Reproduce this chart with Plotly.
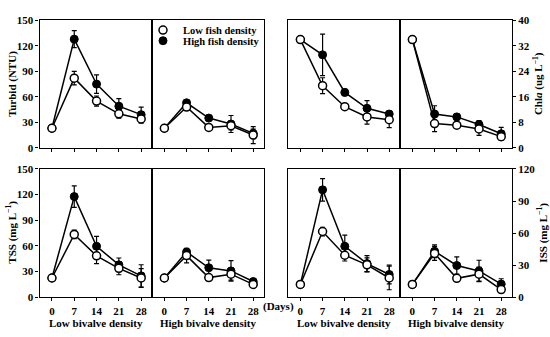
import plotly.graph_objects as go

days = [0, 7, 14, 21, 28]

# Turbid (NTU)
turb_lowbiv_lowfish = [23, 82, 55, 40, 34]
turb_lowbiv_lowfish_err = [1, 8, 6, 5, 5]
turb_lowbiv_highfish = [23, 128, 75, 49, 39]
turb_lowbiv_highfish_err = [1, 10, 11, 9, 9]
turb_highbiv_lowfish = [23, 48, 24, 26, 15]
turb_highbiv_lowfish_err = [1, 3, 2, 5, 10]
turb_highbiv_highfish = [23, 53, 35, 28, 17]
turb_highbiv_highfish_err = [1, 3, 3, 10, 5]

# Chla (ug L-1)
chla_lowbiv_lowfish = [34, 19.5, 12.9, 9.7, 8.8]
chla_lowbiv_lowfish_err = [0.5, 2.5, 0.8, 2.3, 2.5]
chla_lowbiv_highfish = [34, 29.2, 17.4, 12.4, 10.6]
chla_lowbiv_highfish_err = [0.5, 6.5, 1, 2.4, 1]
chla_highbiv_lowfish = [34, 7.6, 7.1, 5.9, 3.5]
chla_highbiv_lowfish_err = [0.5, 2.5, 0.8, 2, 1]
chla_highbiv_highfish = [34, 10.6, 9.7, 7.3, 4.4]
chla_highbiv_highfish_err = [0.5, 2.6, 1, 1.2, 2]

# TSS (mg L-1)
tss_lowbiv_lowfish = [22.5, 73.5, 48.4, 33.8, 22.5]
tss_lowbiv_lowfish_err = [1, 5, 9, 7.5, 11]
tss_lowbiv_highfish = [22.5, 117.7, 59.6, 37.9, 25]
tss_lowbiv_highfish_err = [1, 12.5, 11.6, 8, 13]
tss_highbiv_lowfish = [22.5, 48.7, 23, 27, 15]
tss_highbiv_lowfish_err = [1, 8.5, 2, 7, 2]
tss_highbiv_highfish = [22.5, 53, 34.5, 30.8, 18.4]
tss_highbiv_highfish_err = [1, 3, 9, 12, 2]

# ISS (mg L-1)
iss_lowbiv_lowfish = [12, 61.5, 39.3, 30.3, 18]
iss_lowbiv_lowfish_err = [1, 4, 5.4, 6.6, 11]
iss_lowbiv_highfish = [12, 100.5, 47.7, 31.5, 21.3]
iss_lowbiv_highfish_err = [1, 10.5, 10.5, 7.5, 8.7]
iss_highbiv_lowfish = [12, 41, 17.7, 21.6, 7.2]
iss_highbiv_lowfish_err = [1, 6.5, 2, 6.6, 2]
iss_highbiv_highfish = [12, 43, 29.7, 24.6, 12.3]
iss_highbiv_highfish_err = [1, 6, 8, 10, 5]

legend_names = ["Low fish density", "High fish density"]
panel_titles = ["Low bivalve density", "High bivalve density"]
ytitles = ["Turbid (NTU)", "Chl<i>a</i> (ug L<sup>−1</sup>)",
           "TSS (mg L<sup>−1</sup>)", "ISS (mg L<sup>−1</sup>)"]

FONT = "Liberation Serif"
FS = 11
W, H = 550, 337

panels = [
    (turb_lowbiv_lowfish, turb_lowbiv_lowfish_err, turb_lowbiv_highfish, turb_lowbiv_highfish_err),
    (turb_highbiv_lowfish, turb_highbiv_lowfish_err, turb_highbiv_highfish, turb_highbiv_highfish_err),
    (chla_lowbiv_lowfish, chla_lowbiv_lowfish_err, chla_lowbiv_highfish, chla_lowbiv_highfish_err),
    (chla_highbiv_lowfish, chla_highbiv_lowfish_err, chla_highbiv_highfish, chla_highbiv_highfish_err),
    (tss_lowbiv_lowfish, tss_lowbiv_lowfish_err, tss_lowbiv_highfish, tss_lowbiv_highfish_err),
    (tss_highbiv_lowfish, tss_highbiv_lowfish_err, tss_highbiv_highfish, tss_highbiv_highfish_err),
    (iss_lowbiv_lowfish, iss_lowbiv_lowfish_err, iss_lowbiv_highfish, iss_lowbiv_highfish_err),
    (iss_highbiv_lowfish, iss_highbiv_lowfish_err, iss_highbiv_highfish, iss_highbiv_highfish_err),
]
yranges = [[0, 150], [0, 150], [0, 40], [0, 40], [0, 150], [0, 150], [0, 120], [0, 120]]
yticks = [[0, 30, 60, 90, 120, 150], None, None, [0, 8, 16, 24, 32, 40],
          [0, 30, 60, 90, 120, 150], None, None, [0, 30, 60, 90, 120]]

def px(x):
    return x / W

def py(y):
    return 1 - y / H

xdoms = [(39.5, 152), (152, 264), (288, 400), (400, 512)] * 2
ydoms = [(147, 15)] * 4 + [(302, 169)] * 4

fig = go.Figure()
for i, (lo, loe, hi, hie) in enumerate(panels):
    n = "" if i == 0 else str(i + 1)
    xa, ya = "x" + n, "y" + n
    fig.add_trace(go.Scatter(
        x=days, y=hi, xaxis=xa, yaxis=ya, mode="lines+markers", showlegend=False,
        line=dict(color="black", width=1.5),
        marker=dict(symbol="circle", size=8, color="black", line=dict(color="black", width=1)),
        error_y=dict(type="data", array=hie, color="black", thickness=1.2, width=2.5)))
    fig.add_trace(go.Scatter(
        x=days, y=lo, xaxis=xa, yaxis=ya, mode="lines+markers", showlegend=False,
        line=dict(color="black", width=1.5),
        marker=dict(symbol="circle", size=8, color="white", line=dict(color="black", width=1.5)),
        error_y=dict(type="data", array=loe, color="black", thickness=1.2, width=2.5)))

# legend entries (one per legend so their spacing can match the reference)
fig.add_trace(go.Scatter(x=[None], y=[None], mode="markers", name=legend_names[0], legend="legend",
                         marker=dict(symbol="circle", size=8, color="white", line=dict(color="black", width=1.5))))
fig.add_trace(go.Scatter(x=[None], y=[None], mode="markers", name=legend_names[1], legend="legend2",
                         marker=dict(symbol="circle", size=8, color="black", line=dict(color="black", width=1))))

legfont = dict(family=FONT, size=10.5, color="black", weight="bold")
layout = dict(
    width=W, height=H, margin=dict(l=0, r=0, t=0, b=0),
    paper_bgcolor="white", plot_bgcolor="white",
    font=dict(family=FONT, size=FS, color="black", weight="bold"),
    legend=dict(x=px(143), y=py(25), xanchor="left", yanchor="middle",
                bgcolor="rgba(0,0,0,0)", font=legfont, itemwidth=30),
    legend2=dict(x=px(143), y=py(36), xanchor="left", yanchor="middle",
                 bgcolor="rgba(0,0,0,0)", font=legfont, itemwidth=30),
)
for i in range(8):
    n = "" if i == 0 else str(i + 1)
    bottom = i >= 4
    layout["xaxis" + n] = dict(
        domain=[px(xdoms[i][0]), px(xdoms[i][1])], anchor="y" + n,
        range=[-3.9, 31.4], tickvals=days, ticks="outside", ticklen=3, tickwidth=1,
        tickcolor="black", showticklabels=bottom, showgrid=False, zeroline=False,
        showline=True, mirror=True, linecolor="black", linewidth=1.2,
        tickfont=dict(family=FONT, size=FS, weight="bold"))
    side = "right" if i in (3, 7) else "left"
    has_ticks = yticks[i] is not None
    ya = dict(
        domain=[py(ydoms[i][0]), py(ydoms[i][1])], anchor="x" + n,
        range=yranges[i], side=side, showgrid=False, zeroline=False,
        showline=True, mirror=True, linecolor="black", linewidth=1.2,
        tickfont=dict(family=FONT, size=FS, weight="bold"))
    if has_ticks:
        ya.update(tickvals=yticks[i], ticks="outside", ticklen=3, tickwidth=1, tickcolor="black",
                  showticklabels=True)
    else:
        ya.update(ticks="", showticklabels=False)
    layout["yaxis" + n] = ya

fig.update_layout(**layout)

ann = []
ann.append(dict(x=px(12), y=py(81), text=ytitles[0], textangle=-90))
ann.append(dict(x=px(538), y=py(81), text=ytitles[1], textangle=-90))
ann.append(dict(x=px(12), y=py(235), text=ytitles[2], textangle=-90))
ann.append(dict(x=px(543), y=py(235), text=ytitles[3], textangle=-90))
for cx in (96, 208, 344, 456):
    t = panel_titles[0] if cx in (96, 344) else panel_titles[1]
    ann.append(dict(x=px(cx), y=py(329), text=t))
ann.append(dict(x=px(278), y=py(312), text="(Days)"))
for a in ann:
    a.update(xref="paper", yref="paper", showarrow=False, xanchor="center", yanchor="middle",
             font=dict(family=FONT, size=FS, color="black", weight="bold"))
fig.update_layout(annotations=ann)

fig.write_html("out.html", config={"displayModeBar": False},
               post_script="document.body.style.margin='0';document.body.style.overflow='hidden';")
